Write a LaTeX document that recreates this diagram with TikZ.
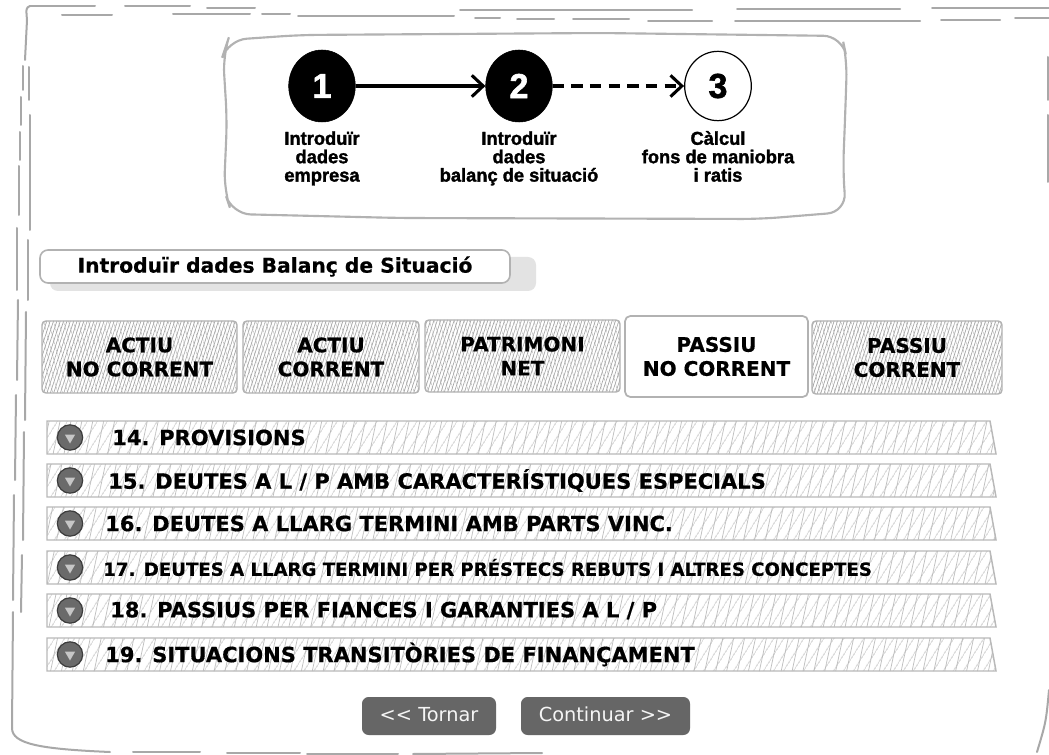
\documentclass[tikz,border=0pt]{standalone}
\usepackage{fontspec}
\setmainfont{DejaVu Sans}[BoldFeatures={FakeBold=0.6}]
\newfontfamily\stepfont{Liberation Sans Bold}[FakeBold=1.6,FakeStretch=0.98]
\usetikzlibrary{arrows.meta,patterns.meta,shapes.geometric}
\definecolor{btngray}{HTML}{666666}
\definecolor{iconfill}{HTML}{6A6A6A}
\definecolor{icondraw}{HTML}{3C3C3C}
\definecolor{framegray}{HTML}{A8A8A8}
\newcommand\lnstrut{\vphantom{Àl}}
\begin{document}
\begin{tikzpicture}[x=0.75pt,y=-0.75pt,
  frameline/.style={draw=framegray,line width=1.5pt,line cap=round},
  stepframe/.style={draw=gray!60,line width=1.6pt,rounded corners=14pt},
  stepdone/.style={ellipse,fill=black,draw=black,minimum width=50pt,minimum height=54pt,inner sep=0pt,text=white,
    font=\stepfont\fontsize{26}{26}\selectfont},
  steptodo/.style={ellipse,fill=white,draw=black,line width=0.9pt,minimum width=50pt,minimum height=52pt,inner sep=0pt,text=black,
    font=\stepfont\fontsize{26}{26}\selectfont},
  steplabel/.style={anchor=north,align=center,inner sep=0pt,font=\stepfont\fontsize{14}{13.8}\selectfont},
  stepline/.style={line width=2.3pt,-{Straight Barb[length=8.5pt,width=16pt,line width=2.3pt]}},
  titleshadow/.style={fill=gray!22,rounded corners=6pt},
  titlebox/.style={draw=gray!60,line width=1.2pt,fill=white,rounded corners=6pt,
    minimum width=352.5pt,minimum height=24.75pt,inner sep=0pt,
    font=\bfseries\fontsize{15.2}{18}\selectfont},
  tabbox/.style={draw=gray!60,line width=1.1pt,rounded corners=3pt,align=center,inner sep=0pt,
    font=\bfseries\fontsize{15}{18}\selectfont,
    preaction={pattern={Lines[angle=105,distance=4pt,line width=0.5pt]},pattern color=gray!65},
    pattern={Lines[angle=72,distance=2.4pt,line width=0.5pt]},pattern color=gray!70},
  activetab/.style={draw=gray!60,line width=1.3pt,rounded corners=4pt,fill=white,align=center,inner sep=0pt,
    font=\bfseries\fontsize{15}{18}\selectfont},
  rowshape/.style={draw=gray!55,line width=1.1pt,
    preaction={pattern={Lines[angle=78,distance=8pt,line width=0.55pt]},pattern color=gray!50},
    pattern={Lines[angle=58,distance=6.5pt,line width=0.55pt]},pattern color=gray!60},
  rowtext/.style={anchor=west,inner sep=0pt,font=\bfseries\fontsize{15.75}{18}\selectfont},
  icon/.style={circle,fill=iconfill,draw=icondraw,line width=0.9pt,minimum size=19pt,inner sep=0pt},
  tri/.style={regular polygon,regular polygon sides=3,shape border rotate=180,fill=gray!45,
    minimum size=9pt,inner sep=0pt},
  btn/.style={fill=btngray,rounded corners=5pt,text=gray!8,inner sep=0pt,text height=10.8pt,text depth=2.6pt,
    font=\fontsize{14.5}{17}\selectfont}
]
\fill[white] (0,0) rectangle (1049,755);
\useasboundingbox (0,0) rectangle (1049,755);

% ---------- outer sketchy frame ----------
\draw[frameline] (30,6) -- (95,6);
\draw[frameline] (62,15) -- (112,15);
\draw[frameline] (125,6) -- (190,6);
\draw[frameline] (173,14) -- (250,14);
\draw[frameline] (207,8) -- (255,8);
\draw[frameline] (262,14) -- (290,14);
\draw[frameline] (298,16) -- (454,16);
\draw[frameline] (460,10) -- (692,10);
\draw[frameline] (475,18) -- (500,18);
\draw[frameline] (517,19) -- (554,19);
\draw[frameline] (573,19) -- (629,19);
\draw[frameline] (648,21) -- (712,21);
\draw[frameline] (737,9) -- (900,9);
\draw[frameline] (735,21) -- (920,21);
\draw[frameline] (932,8) -- (1049,8);
\draw[frameline] (941,20) -- (1000,20);
\draw[frameline] (1015,18) -- (1049,18);
% left
\draw[frameline] (30,6) .. controls (26,8) .. (27,20) -- (25,60);
\draw[frameline] (23,66) -- (23,90);
\draw[frameline] (29,67) -- (29,100);
\draw[frameline] (21,97) -- (21,125);
\draw[frameline] (30,115) -- (30,230);
\draw[frameline] (20,132) -- (20,160);
\draw[frameline] (19,166) -- (19,215);
\draw[frameline] (17,228) -- (17,290);
\draw[frameline] (28,240) -- (28,300);
\draw[frameline] (26,312) -- (25,420);
\draw[frameline] (18,300) -- (17,380);
\draw[frameline] (16,395) -- (15,480);
\draw[frameline] (24,432) -- (23,540);
\draw[frameline] (14,495) -- (13,600);
\draw[frameline] (22,555) -- (21,612);
\draw[frameline] (13,612) -- (12,728);
% bottom
\draw[frameline] (12,728) .. controls (12,744) and (40,749) .. (110,752);
\draw[frameline] (133,752) -- (200,752);
\draw[frameline] (227,753) -- (300,753);
\draw[frameline] (307,754) -- (398,754);
\draw[frameline] (413,754) -- (542,753);
% right
\draw[frameline] (1048,57) -- (1048,100);
\draw[frameline] (1048,115) -- (1048,182);
\draw[frameline] (1049,690) .. controls (1046,722) .. (1037,752);

% ---------- steps box ----------
\draw[stepframe] (228,40) -- (300,35) -- (600,33) -- (842,36) -- (847,60) -- (845,120)
  -- (843,170) -- (846,212) -- (760,219) -- (400,218) -- (232,214) -- (224,190)
  -- (227,120) -- (223,55) -- cycle;

\node[stepdone] (s1) at (322,86) {1};
\node[stepdone] (s2) at (519,86) {2};
\node[steptodo] (s3) at (718,86) {3};
\draw[stepline] (s1) -- (s2);
\draw[stepline,dash pattern=on 8.5pt off 5.5pt] (s2) -- (s3);

\node[steplabel] (l1) at (322,128) {\lnstrut Introduïr\\dades\\empresa};
\node[steplabel] (l2) at (519,128) {\lnstrut Introduïr\\dades\\balanç de situació};
\node[steplabel] (l3) at (718,128) {\lnstrut Càlcul\\fons de maniobra\\i ratis};

% ---------- title ----------
\fill[titleshadow] (50,257) rectangle (536,291);
\node[titlebox] (title) at (275,266.5) {Introduïr dades Balanç de Situació};

% ---------- tabs ----------
\node[tabbox,minimum width=146.25pt,minimum height=54pt] (t1) at (139.5,357) {ACTIU\\NO CORRENT};
\node[tabbox,minimum width=132pt,minimum height=54pt] (t2) at (331,357) {ACTIU\\CORRENT};
\node[tabbox,minimum width=146.25pt,minimum height=54pt] (t3) at (522.5,356) {PATRIMONI\\NET};
\node[activetab,minimum width=137.25pt,minimum height=60.75pt] (t4) at (716.5,356.5) {PASSIU\\NO CORRENT};
\node[tabbox,minimum width=142.5pt,minimum height=54.75pt] (t5) at (907,357.5) {PASSIU\\CORRENT};

% ---------- rows ----------
\path[rowshape] (47,421) -- (990,421) -- (996,454) -- (47,454) -- cycle;
\path[rowshape] (47,464) -- (990,464) -- (996,497) -- (47,497) -- cycle;
\path[rowshape] (47,507) -- (990,507) -- (996,540) -- (47,540) -- cycle;
\path[rowshape] (47,551) -- (990,551) -- (996,584) -- (47,584) -- cycle;
\path[rowshape] (47,594) -- (990,594) -- (996,627) -- (47,627) -- cycle;
\path[rowshape] (47,638) -- (990,638) -- (996,671) -- (47,671) -- cycle;

\node[icon] (i14) at (70,437.5) {};
\node[icon] (i15) at (70,480.5) {};
\node[icon] (i16) at (70,523.5) {};
\node[icon] (i17) at (70,567.5) {};
\node[icon] (i18) at (70,610.5) {};
\node[icon] (i19) at (70,654.5) {};
\node[tri] (v14) at (i14) {};
\node[tri] (v15) at (i15) {};
\node[tri] (v16) at (i16) {};
\node[tri] (v17) at (i17) {};
\node[tri] (v18) at (i18) {};
\node[tri] (v19) at (i19) {};

\node[rowtext] (r14) at (112,437.5) {14. PROVISIONS};
\node[rowtext] (r15) at (108,480.5) {15. DEUTES A L / P AMB CARACTERÍSTIQUES ESPECIALS};
\node[rowtext] (r16) at (105,523.5) {16. DEUTES A LLARG TERMINI AMB PARTS VINC.};
\node[rowtext,font=\bfseries\fontsize{13.6}{16}\selectfont] (r17) at (103,567.5) {17. DEUTES A LLARG TERMINI PER PRÉSTECS REBUTS I ALTRES CONCEPTES};
\node[rowtext] (r18) at (110,610.5) {18. PASSIUS PER FIANCES I GARANTIES A L / P};
\node[rowtext] (r19) at (105,654.5) {19. SITUACIONS TRANSITÒRIES DE FINANÇAMENT};

% ---------- buttons ----------
\node[btn,minimum width=100.5pt,minimum height=28.5pt] (back) at (429,716) {{<}{<} Tornar};
\node[btn,minimum width=126.75pt,minimum height=28.5pt] (next) at (605.5,716) {Continuar {>}{>}};
\end{tikzpicture}
\end{document}
